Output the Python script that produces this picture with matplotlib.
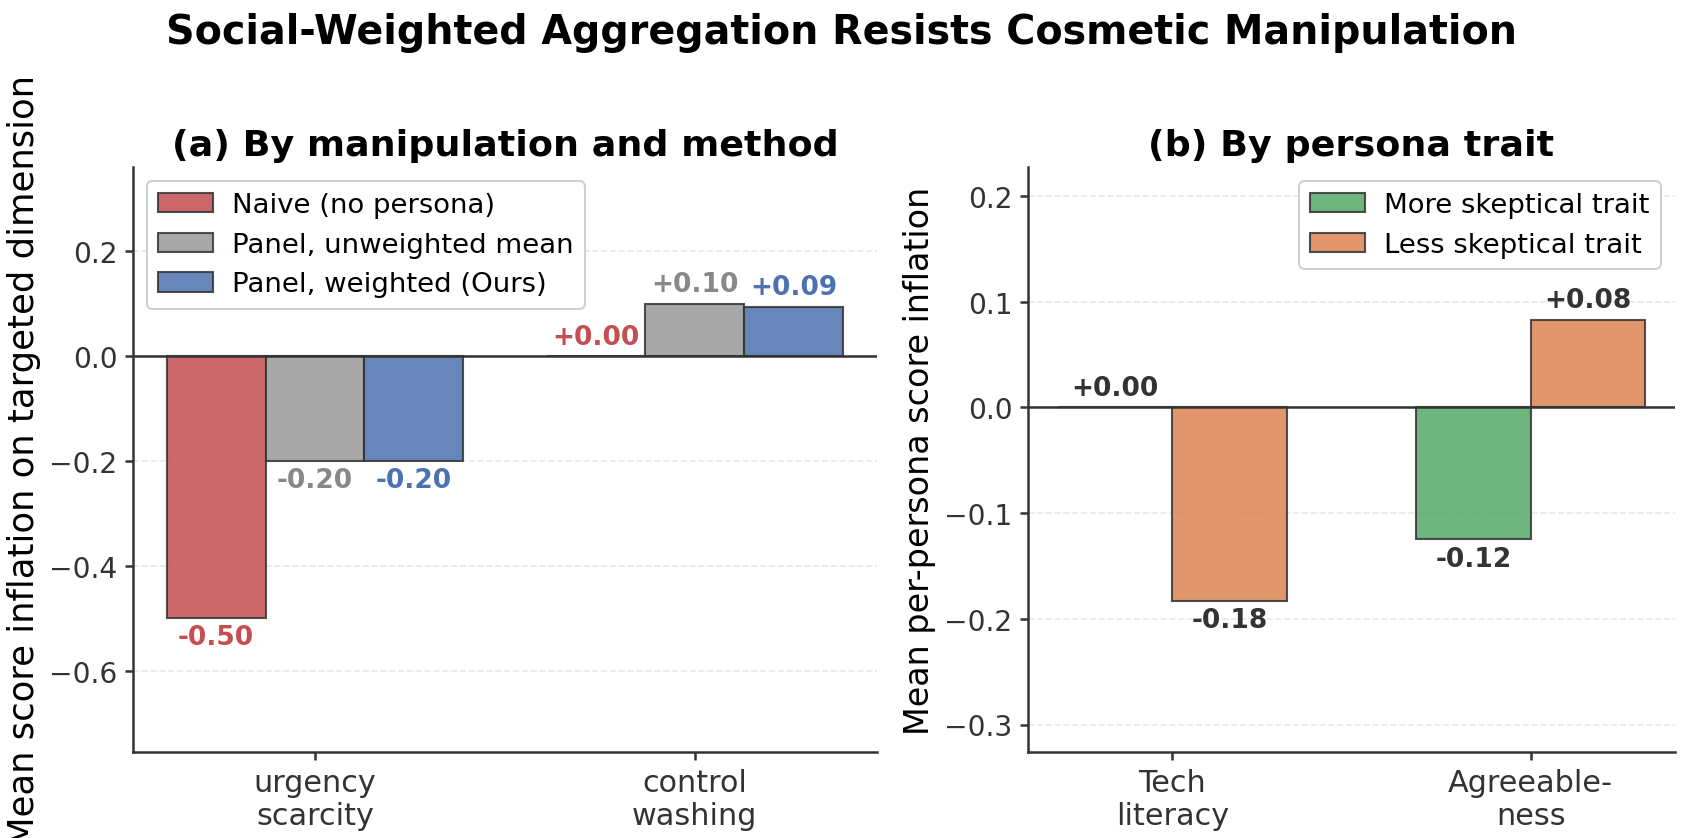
import numpy as np
import matplotlib.pyplot as plt

# panel (a) data
manipulations = ["urgency\nscarcity", "control\nwashing"]
naive = [-0.50, 0.00]
unweighted = [-0.20, 0.10]
weighted = [-0.20, 0.094]

# panel (b) data
traits = ["Tech\nliteracy", "Agreeable-\nness"]
more_skeptical = [0.00, -0.125]
less_skeptical = [-0.183, 0.083]

fig = plt.figure(figsize=(11.22, 5.593), dpi=150)
ax1 = fig.add_axes([0.079, 0.1025, 0.442, 0.697])
ax2 = fig.add_axes([0.611, 0.1025, 0.384, 0.697])

fig.suptitle("Social-Weighted Aggregation Resists Cosmetic Manipulation",
             fontsize=19, fontweight="bold", y=0.985)


def style_axis(ax):
    for s in ["top", "right"]:
        ax.spines[s].set_visible(False)
    for s in ["left", "bottom"]:
        ax.spines[s].set_color("#333333")
        ax.spines[s].set_linewidth(1.2)
    ax.tick_params(colors="#333333", labelsize=13.5, width=1.2, length=4)
    ax.yaxis.grid(True, linestyle="--", color="#dddddd", alpha=0.7, linewidth=0.8)
    ax.set_axisbelow(True)
    ax.axhline(0, color="#333333", linewidth=1.2, zorder=3)


def add_labels(ax, xs, vals, color, offset):
    for x, v in zip(xs, vals):
        if v >= 0:
            ax.annotate(f"{v:+.2f}", (x, v), xytext=(0, offset), textcoords="offset points",
                        ha="center", va="bottom", fontsize=12.7, fontweight="bold", color=color)
        else:
            ax.annotate(f"{v:.2f}", (x, v), xytext=(0, -offset), textcoords="offset points",
                        ha="center", va="top", fontsize=12.7, fontweight="bold", color=color)


# (a)
x = np.arange(len(manipulations))
w = 0.26
series = [
    (naive, "#C44E52", "Naive (no persona)", "#C44E52"),
    (unweighted, "#999999", "Panel, unweighted mean", "#888888"),
    (weighted, "#4C72B0", "Panel, weighted (Ours)", "#4C72B0"),
]
for i, (vals, col, lab, lcol) in enumerate(series):
    xs = x + (i - 1) * w
    ax1.bar(xs, vals, w, color=col, alpha=0.85, edgecolor="#333333", linewidth=1,
            label=lab, zorder=2)
    add_labels(ax1, xs, vals, lcol, 3)

style_axis(ax1)
ax1.set_xticks(x)
ax1.set_xticklabels(manipulations, fontsize=14.5)
ax1.set_ylim(-0.755, 0.36)
ax1.set_ylabel("Mean score inflation on targeted dimension", fontsize=17)
ax1.set_title("(a) By manipulation and method", fontsize=17.5, fontweight="bold")
ax1.legend(loc="upper left", fontsize=13.2, framealpha=0.9, handletextpad=0.7)

# (b)
x2 = np.arange(len(traits))
w2 = 0.32
ax2.bar(x2 - w2 / 2, more_skeptical, w2, color="#55A868", alpha=0.85,
        edgecolor="#333333", linewidth=1, label="More skeptical trait", zorder=2)
ax2.bar(x2 + w2 / 2, less_skeptical, w2, color="#DD8452", alpha=0.85,
        edgecolor="#333333", linewidth=1, label="Less skeptical trait", zorder=2)
add_labels(ax2, x2 - w2 / 2, more_skeptical, "#333333", 3)
add_labels(ax2, x2 + w2 / 2, less_skeptical, "#333333", 3)

style_axis(ax2)
ax2.set_xticks(x2)
ax2.set_xticklabels(traits, fontsize=14.5)
ax2.set_ylim(-0.326, 0.227)
ax2.set_ylabel("Mean per-persona score inflation", fontsize=16)
ax2.set_title("(b) By persona trait", fontsize=17.5, fontweight="bold")
ax2.legend(loc="upper right", fontsize=13.2, framealpha=0.9, handletextpad=0.7)

fig.savefig("out.png", dpi=150)
